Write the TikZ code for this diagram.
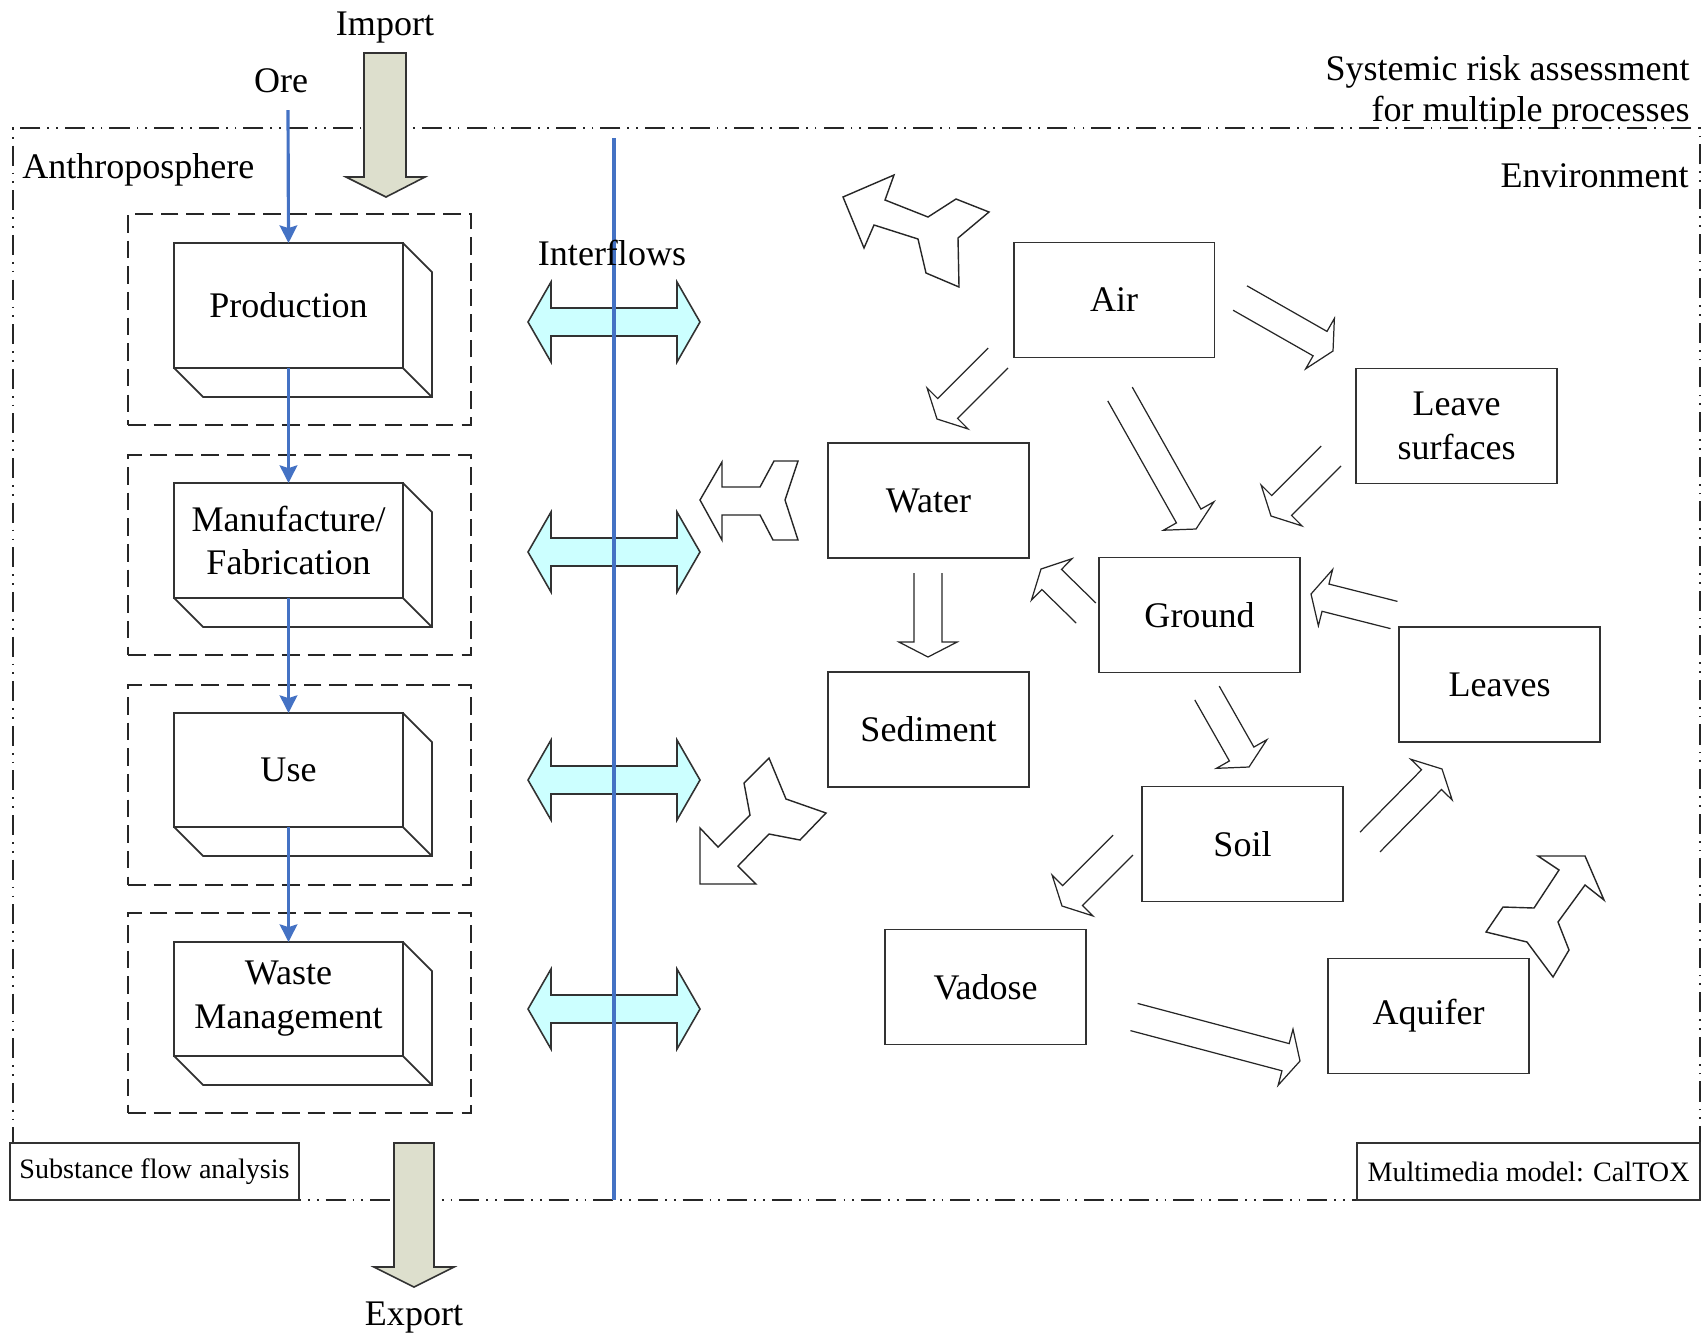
\documentclass[tikz,border=0pt]{standalone}
\usepackage{fontspec}
\setmainfont{Liberation Serif}
\usetikzlibrary{calc,arrows.meta}
\definecolor{bline}{RGB}{68,114,196}
\definecolor{cyanf}{RGB}{204,255,255}
\definecolor{olivef}{RGB}{221,223,205}
\definecolor{edgec}{RGB}{50,50,50}
\newcommand\harrow[2]{%
  \coordinate (hb) at ($(#2)!8.5pt!(#1)$);
  \draw[hollow] ($(#1)!8pt!90:(#2)$) -- ($(hb)!8pt!90:(#2)$) -- ($(hb)!16.5pt!90:(#2)$) -- (#2)
    -- ($(hb)!16.5pt!-90:(#2)$) -- ($(hb)!8pt!-90:(#2)$) -- ($(#1)!8pt!-90:(#2)$);}
\newcommand\cuboid[1]{%
  \draw[cube] (#1.north east) -- ($(#1.north east)+(29,29)$) -- ($(#1.south east)+(29,29)$)
    -- ($(#1.south west)+(29,29)$) -- (#1.south west);
  \draw[cube] (#1.south east) -- ($(#1.south east)+(29,29)$);}
\newcommand\dblarrow[1]{%
  \draw[inter] (528,#1) -- (551,#1-40) -- (551,#1-14) -- (677,#1-14) -- (677,#1-40) -- (700,#1)
    -- (677,#1+40) -- (677,#1+14) -- (551,#1+14) -- (551,#1+40) -- cycle;}
\begin{document}
\begin{tikzpicture}[x=0.02cm,y=-0.02cm,
  mainfont/.style={font=\fontsize{20.5}{25}\selectfont},
  lbl/.style={mainfont, inner sep=0pt},
  frame/.style={draw=black!85, line width=1.4pt,
    dash pattern=on 11.4pt off 4pt on 1pt off 4pt on 1pt off 4pt},
  dbox/.style={draw=black!85, line width=1.3pt, dash pattern=on 10pt off 4.6pt,
    minimum width=6.86cm, inner sep=0pt},
  front/.style={draw=edgec, line width=1pt, fill=white, minimum width=4.58cm,
    inner sep=0pt, outer sep=0pt, align=center, mainfont},
  cube/.style={draw=edgec, line width=1pt, line join=miter},
  env/.style={draw=edgec, line width=1.1pt, minimum width=4.02cm, minimum height=2.3cm,
    inner sep=0pt, align=center, mainfont},
  hollow/.style={draw=black!85, line width=0.7pt, line join=miter},
  bent/.style={draw=black!85, line width=0.8pt, fill=white, line join=miter},
  flowline/.style={draw=bline, line width=1.8pt},
  flowarr/.style={flowline, -{Stealth[length=10pt,width=10pt,inset=1.5pt]}},
  bigarrow/.style={draw=edgec, line width=0.9pt, fill=olivef, line join=miter},
  inter/.style={draw=edgec, line width=0.9pt, fill=cyanf, line join=miter},
  smallbox/.style={draw=edgec, line width=0.9pt, fill=white, inner sep=0pt,
    minimum height=1.14cm, font=\fontsize{16}{19}\selectfont}
]
\useasboundingbox (0,0) rectangle (1706,1333);

% outer frame
\node[frame, minimum width=33.74cm, minimum height=21.44cm, inner sep=0pt] (frame) at (856.5,664) {};

% top labels
\node[lbl, anchor=base east] (sra1) at (1690,80) {Systemic risk assessment};
\node[lbl, anchor=base east] (sra2) at (1690,121) {for multiple processes};
\node[lbl, anchor=base east] (envlbl) at (1689,187) {Environment};
\node[lbl, anchor=base west] (anthlbl) at (22,178) {Anthroposphere};
\node[lbl, anchor=base] (implbl) at (385,35) {Import};
\node[lbl, anchor=base] (orelbl) at (281,92) {Ore};
\node[lbl, anchor=base] (explbl) at (414,1325) {Export};

% corner boxes
\node[smallbox, minimum width=5.78cm] (sfa) at (154.5,1171.5) {Substance flow analysis};
\node[smallbox, minimum width=6.86cm] (caltox) at (1528.5,1171.5) {Multimedia model: CalTOX};

% import / export arrows
\draw[bigarrow] (364,53) -- (406,53) -- (406,177) -- (425,177) -- (386,197) -- (346,177) -- (364,177) -- cycle;
\draw[bigarrow] (394,1143) -- (434,1143) -- (434,1267) -- (454,1267) -- (414,1287) -- (374,1267) -- (394,1267) -- cycle;

% dashed process boxes
\node[dbox, minimum height=4.22cm] (d1) at (299.5,319.5) {};
\node[dbox, minimum height=4.0cm] (d2) at (299.5,555) {};
\node[dbox, minimum height=4.0cm] (d3) at (299.5,785) {};
\node[dbox, minimum height=4.0cm] (d4) at (299.5,1013) {};

% cuboids
\node[front, minimum height=2.5cm] (prod) at (288.5,305.5) {Production};
\node[front, minimum height=2.3cm] (manu) at (288.5,540.5) {Manufacture/\\Fabrication};
\node[front, minimum height=2.28cm] (use) at (288.5,770) {Use};
\node[front, minimum height=2.28cm] (waste) at (288.5,999) {Waste\\Management};
\cuboid{prod}
\cuboid{manu}
\cuboid{use}
\cuboid{waste}

% blue flows
\coordinate (orestart) at (288,110);
\draw[flowarr] (orestart) -- (prod.north);
\draw[flowarr] (prod.south) -- (manu.north);
\draw[flowarr] (manu.south) -- (use.north);
\draw[flowarr] (use.south) -- (waste.north);

% interflows
\dblarrow{322}
\dblarrow{552}
\dblarrow{780}
\dblarrow{1009}
\coordinate (ltop) at (614,138);
\coordinate (lbot) at (614,1200);
\draw[flowline] (ltop) -- (lbot);
\node[lbl, anchor=base] (interlbl) at (612,265) {Interflows};

% environment compartments
\node[env] (air) at (1114,300) {Air};
\node[env] (water) at (928.5,500.5) {Water};
\node[env] (ground) at (1199.5,615) {Ground};
\node[env] (sediment) at (928.5,729.5) {Sediment};
\node[env] (leavesurf) at (1456.5,426) {Leave\\surfaces};
\node[env] (leaves) at (1499.5,684.5) {Leaves};
\node[env] (soil) at (1242.5,844) {Soil};
\node[env] (vadose) at (985.5,987) {Vadose};
\node[env] (aquifer) at (1428.5,1016) {Aquifer};

% hollow transfer arrows
\coordinate (t1) at (1240,298);  \coordinate (p1) at (1333,351);
\coordinate (t2) at (998,358);   \coordinate (p2) at (937,419);
\coordinate (t3) at (1120,394);  \coordinate (p3) at (1196,529);
\coordinate (t4) at (1331,456);  \coordinate (p4) at (1271,516);
\coordinate (t5) at (1086,613);  \coordinate (p5) at (1041,569);
\coordinate (t6) at (1394,615);  \coordinate (p6) at (1311,594);
\coordinate (t7) at (1207,693);  \coordinate (p7) at (1249,767);
\coordinate (t8) at (1370,842);  \coordinate (p8) at (1442,769);
\coordinate (t9) at (1123,845);  \coordinate (p9) at (1062,906);
\coordinate (t10) at (1134,1017); \coordinate (p10) at (1300,1061);
\coordinate (t11) at (928,573);  \coordinate (p11) at (928,657);
\harrow{t1}{p1}
\harrow{t2}{p2}
\harrow{t3}{p3}
\harrow{t4}{p4}
\harrow{t5}{p5}
\harrow{t6}{p6}
\harrow{t7}{p7}
\harrow{t8}{p8}
\harrow{t9}{p9}
\harrow{t10}{p10}
\harrow{t11}{p11}

% outflow (bent) arrows
\draw[bent] (843,197) -- (894,175) -- (885,200) -- (928,217) -- (956,199) -- (989,212) -- (958,238)
  -- (959,287) -- (926,273) -- (918,239) -- (874,225) -- (864,248) -- cycle;
\draw[bent] (700,500) -- (722,462) -- (722,487) -- (760,487) -- (774,461) -- (798,461) -- (785,500)
  -- (798,540) -- (773,540) -- (760,515) -- (722,515) -- (722,540) -- cycle;
\draw[bent] (700,828) -- (700,884) -- (756,884) -- (738,866) -- (769,834) -- (800,840) -- (826,813)
  -- (786,799) -- (769,758) -- (744,783) -- (750,815) -- (718,847) -- cycle;
\draw[bent] (1538,856) -- (1585,856) -- (1604,900) -- (1585,885) -- (1558,922) -- (1569,950) -- (1553,977)
  -- (1527,942) -- (1486,932) -- (1503,907) -- (1534,908) -- (1559,870) -- cycle;
\end{tikzpicture}
\end{document}
